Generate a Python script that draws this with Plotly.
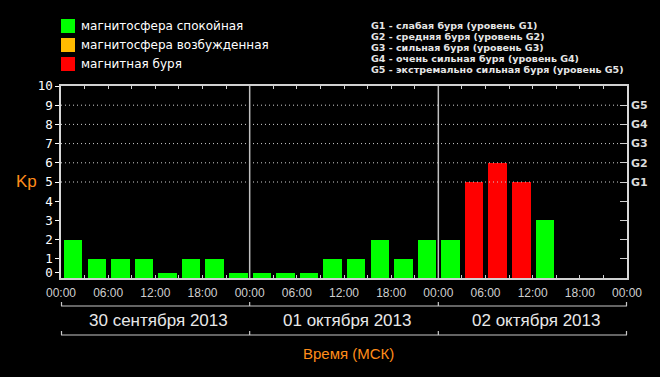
import plotly.graph_objects as go

# ---------------- data ----------------
SLOT_START_HOURS = list(range(0, 72, 3))          # 3-hour slots across 3 days
KP_VALUES = [2, 1, 1, 1, 0.25, 1, 1, 0.25,        # 30 Sep 2013
             0.25, 0.25, 0.25, 1, 1, 2, 1, 2,      # 01 Oct 2013
             2, 5, 6, 5, 3, None, None, None]      # 02 Oct 2013
TIME_TICKS = list(range(0, 73, 6))
TIME_LABELS = ["00:00", "06:00", "12:00", "18:00"] * 3 + ["00:00"]
DAY_STARTS = [0, 24, 48, 72]
DAY_LABELS = ["30 сентября 2013", "01 октября 2013", "02 октября 2013"]
Y_TICKS = [0.28, 1, 2, 3, 4, 5, 6, 7, 8, 9, 10]
Y_LABELS = ["0", "1", "2", "3", "4", "5", "6", "7", "8", "9", "10"]
G_LEVELS = [1, 2, 3, 4, 5, 6, 7, 8, 9]
G_LABELS = ["", "", "", "", "G1", "G2", "G3", "G4", "G5"]
GRID_LEVELS = [5, 6, 7, 8, 9]
LEGEND_LABELS = ["магнитосфера спокойная", "магнитосфера возбужденная", "магнитная буря"]
LEGEND_COLORS = ["#00ff00", "#ffbb00", "#ff0000"]
G_DESCRIPTIONS = ["G1 - слабая буря (уровень G1)",
                  "G2 - средняя буря (уровень G2)",
                  "G3 - сильная буря (уровень G3)",
                  "G4 - очень сильная буря (уровень G4)",
                  "G5 - экстремально сильная буря (уровень G5)"]

# ---------------- layout geometry ----------------
W, H = 660, 377
L, R, T, B = 61, 33, 86, 99
PW, PH = W - L - R, H - T - B


def px_x(px):
    return (px - L) / PW


def px_y(py):
    return (H - B - py) / PH


def cat_color(v):
    if v is None:
        return LEGEND_COLORS[0]
    if v >= 5:
        return LEGEND_COLORS[2]
    if v >= 4:
        return LEGEND_COLORS[1]
    return LEGEND_COLORS[0]


fig = go.Figure()
fig.add_trace(go.Bar(
    x=[h + 1.55 for h in SLOT_START_HOURS],
    y=KP_VALUES,
    width=2.35,
    marker=dict(color=[cat_color(v) for v in KP_VALUES], line=dict(width=0)),
    showlegend=False,
    hoverinfo="skip",
))
fig.add_trace(go.Scatter(x=[None], y=[None], yaxis="y2", showlegend=False))

shapes = []
annotations = []

# dotted grid lines
for g in GRID_LEVELS:
    shapes.append(dict(type="line", xref="paper", yref="y", x0=0, x1=1 - 7 / PW,
                       y0=g, y1=g, line=dict(color="#d0d0d0", width=1, dash="1px,3px")))

# day dividers
for d in DAY_STARTS[1:-1]:
    shapes.append(dict(type="line", xref="x", yref="paper", x0=d, x1=d, y0=0, y1=1,
                       line=dict(color="#c0c0c0", width=1.5)))

# brackets below the axis
for ly in (306, 335):
    shapes.append(dict(type="line", xref="paper", yref="paper",
                       x0=px_x(61), x1=px_x(627), y0=px_y(ly), y1=px_y(ly),
                       line=dict(color="#c8c8c8", width=1.2)))
    for d in DAY_STARTS:
        xx = min(max(d / 72, px_x(61.5)), px_x(626.5))
        shapes.append(dict(type="line", xref="paper", yref="paper",
                           x0=xx, x1=xx, y0=px_y(ly), y1=px_y(ly - 4),
                           line=dict(color="#c8c8c8", width=1.2)))

# day labels
for i, lab in enumerate(DAY_LABELS):
    annotations.append(dict(text=lab, xref="x", yref="paper",
                            x=(DAY_STARTS[i] + DAY_STARTS[i + 1]) / 2 + 0.4, y=px_y(320),
                            showarrow=False, xanchor="center", yanchor="middle",
                            font=dict(family="Liberation Sans", size=17, color="#e8e8e8")))

# axis titles
annotations.append(dict(text="Время (МСК)", xref="paper", yref="paper", x=px_x(348), y=px_y(353),
                        showarrow=False, xanchor="center", yanchor="middle",
                        font=dict(family="Liberation Sans", size=15, color="#ff8c1a")))
annotations.append(dict(text="Kp", xref="paper", yref="paper", x=px_x(26), y=px_y(181),
                        showarrow=False, xanchor="center", yanchor="middle",
                        font=dict(family="Liberation Sans", size=17, color="#ff8c1a")))

# legend (manual)
for i, (lab, col) in enumerate(zip(LEGEND_LABELS, LEGEND_COLORS)):
    cy = 26 + 19 * i
    shapes.append(dict(type="rect", xref="paper", yref="paper",
                       x0=px_x(61), x1=px_x(75), y0=px_y(cy - 7), y1=px_y(cy + 7),
                       fillcolor=col, line=dict(width=0)))
    annotations.append(dict(text=lab, xref="paper", yref="paper", x=px_x(79), y=px_y(cy),
                            showarrow=False, xanchor="left", yanchor="middle",
                            font=dict(family="DejaVu Sans", size=12, color="#ffffff")))

# G descriptions
for i, txt in enumerate(G_DESCRIPTIONS):
    cy = 25 + 11.1 * i
    annotations.append(dict(text="<b>" + txt + "</b>", xref="paper", yref="paper",
                            x=px_x(369), y=px_y(cy), showarrow=False,
                            xanchor="left", yanchor="middle",
                            font=dict(family="DejaVu Sans", size=9.5, color="#e6e6e6")))

fig.update_layout(
    width=W, height=H,
    margin=dict(l=L, r=R, t=T, b=B, pad=0),
    paper_bgcolor="#000000", plot_bgcolor="#000000",
    bargap=0, showlegend=False,
    xaxis=dict(range=[0, 72], tickmode="array", tickvals=TIME_TICKS, ticktext=TIME_LABELS,
               ticks="inside", ticklen=3, tickcolor="#d0d0d0", tickwidth=1,
               minor=dict(dtick=3, tick0=0, ticks="inside", ticklen=3, tickcolor="#d0d0d0", showgrid=False),
               showline=True, linecolor="#d0d0d0", linewidth=1.5, mirror="ticks",
               showgrid=False, zeroline=False, ticklabelstandoff=3,
               tickfont=dict(family="Liberation Sans", size=12, color="#cfcfcf")),
    yaxis=dict(range=[0, 10], tickmode="array", tickvals=Y_TICKS, ticktext=Y_LABELS,
               ticks="outside", ticklen=4, tickcolor="#ffffff", tickwidth=1,
               showline=True, linecolor="#d8d8d8", linewidth=1.5, mirror=True,
               showgrid=False, zeroline=False, ticklabelstandoff=0,
               tickfont=dict(family="DejaVu Sans Mono", size=12.5, color="#ffffff")),
    yaxis2=dict(range=[0, 10], overlaying="y", side="right", tickmode="array",
                tickvals=G_LEVELS, ticktext=G_LABELS, ticks="inside", ticklen=7,
                tickcolor="#d0d0d0", showline=False, showgrid=False, zeroline=False,
                ticklabelstandoff=3,
                tickfont=dict(family="DejaVu Sans", size=11, color="#dcdcdc", weight="bold")),
    shapes=shapes, annotations=annotations,
)

fig.write_html("out.html")
